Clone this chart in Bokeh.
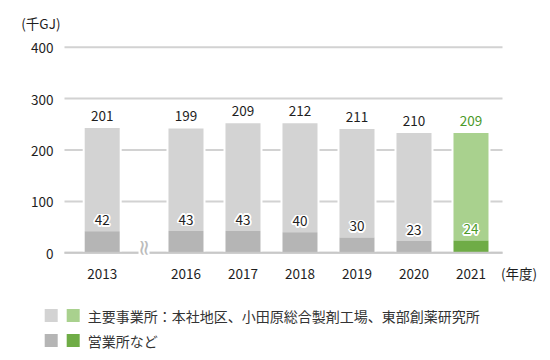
import math
from bokeh.plotting import figure
from bokeh.models import ColumnDataSource, Range1d
from bokeh.embed import file_html
from bokeh.resources import INLINE
from bokeh.core.properties import value

# ---------------- data ----------------
years = ["2013", "2016", "2017", "2018", "2019", "2020", "2021"]
main_sites = [201, 199, 209, 212, 211, 210, 209]      # 主要事業所
sales_offices = [42, 43, 43, 40, 30, 23, 24]          # 営業所など
highlight = [False, False, False, False, False, False, True]
y_ticks = [0, 100, 200, 300, 400]
y_unit = "(千GJ)"
x_unit = "(年度)"
legend_main = "主要事業所：本社地区、小田原総合製剤工場、東部創薬研究所"
legend_sales = "営業所など"

# ---------------- styles ----------------
FONT = "Noto Sans CJK JP"
GRAY_L = "#d3d3d3"
GRAY_D = "#b5b5b5"
GREEN_L = "#a9d18e"
GREEN_D = "#6fac46"
GREEN_T = "#4c9a2a"
TXT = "#1e1e1e"
GRID = "#d2d2d2"
FS = "13.5px"

# ---------------- layout (data-space frame covering the whole canvas) ----------------
W, H = 542, 352
X0_PX, PX_PER_X = 101.7, 57.0          # x=0 (first bar) location, px per slot
Y0_PX, PX_PER_Y = 252.3, 205.6 / 400   # y=0 location, px per unit
x_rng = Range1d(-X0_PX / PX_PER_X, (W - X0_PX) / PX_PER_X)
y_rng = Range1d(-(H - Y0_PX) / PX_PER_Y, Y0_PX / PX_PER_Y)

def dx(px):  # canvas px -> data x
    return (px - X0_PX) / PX_PER_X

def dy(px):  # canvas px -> data y
    return (Y0_PX - px) / PX_PER_Y

GX0, GX1 = dx(64), dx(502)            # plot area horizontal extent

# x layout: a break between 2013 and 2016
xpos = [0.0] + [round(1.47 + i, 2) for i in range(len(years) - 1)]
totals = [m + s for m, s in zip(main_sites, sales_offices)]

src = ColumnDataSource(dict(
    x=xpos,
    main=main_sites,
    sales=sales_offices,
    total=totals,
    top_color=[GREEN_L if h else GRAY_L for h in highlight],
    bot_color=[GREEN_D if h else GRAY_D for h in highlight],
    txt_color=[GREEN_T if h else TXT for h in highlight],
    main_lbl=[str(v) for v in main_sites],
    sales_lbl=[str(v) for v in sales_offices],
))

p = figure(width=W, height=H, x_range=x_rng, y_range=y_rng,
           output_backend="svg", toolbar_location=None, min_border=0,
           x_axis_location=None, y_axis_location=None)
p.outline_line_color = None
p.grid.visible = False

# gridlines
p.segment(x0=GX0, x1=GX1, y0=y_ticks, y1=y_ticks, line_color=GRID, line_width=2)
# y tick labels
p.text(x=GX0, y=y_ticks, text=[str(t) for t in y_ticks], x_offset=-11, y_offset=1,
       text_align="right", text_baseline="middle", text_color=TXT,
       text_font=value(FONT), text_font_size=FS)

# white halo behind bars (gap between gridlines and bars)
p.vbar(x="x", bottom=0, top="total", width=0.684, source=src,
       fill_color="white", line_color=None)
p.vbar(x="x", bottom="sales", top="total", width=0.614, source=src,
       fill_color="top_color", line_color=None)
p.vbar(x="x", bottom=0, top="sales", width=0.614, source=src,
       fill_color="bot_color", line_color=None)

# baseline + axis break
p.segment(x0=GX0, x1=GX1, y0=y_ticks[0], y1=y_ticks[0], line_color="#c8c8c8", line_width=2)
p.quad(left=0.637, right=0.83, bottom=-6, top=6, fill_color="white", line_color=None)
p.text(x=0.733, y=0, text=["≈"], angle=math.pi / 2, y_offset=-5,
       text_align="center", text_baseline="middle", text_color="#bbbbbb",
       text_font=value("DejaVu Sans"), text_font_size="22px")

# year labels
p.text(x=xpos, y=0, text=years, y_offset=21, text_align="center",
       text_baseline="middle", text_color=TXT,
       text_font=value(FONT), text_font_size=FS)
p.text(x=dx(500.5), y=0, text=[x_unit], y_offset=20.5, text_align="left",
       text_baseline="middle", text_color=TXT,
       text_font=value(FONT), text_font_size="13.5px")
p.text(x=dx(20.8), y=dy(22.5), text=[y_unit], text_align="left",
       text_baseline="middle", text_color=TXT,
       text_font=value(FONT), text_font_size="13.5px")

# labels above bars
p.text(x="x", y="total", text="main_lbl", source=src, text_color="txt_color",
       text_align="center", text_baseline="middle", y_offset=-12,
       text_font=value(FONT), text_font_size=FS)

# labels of lower segment with white halo
for k in range(12):
    a = 2 * math.pi * k / 12
    p.text(x="x", y="sales", text="sales_lbl", source=src, text_color="white",
           text_align="center", text_baseline="middle",
           x_offset=1.7 * math.cos(a), y_offset=-11 + 1.7 * math.sin(a),
           text_font=value(FONT), text_font_size=FS)
p.text(x="x", y="sales", text="sales_lbl", source=src, text_color="txt_color",
       text_align="center", text_baseline="middle", y_offset=-11,
       text_font=value(FONT), text_font_size=FS)

# ---------------- legend ----------------
row_y = [dy(315), dy(340)]
sw_x = [dx(50.7), dx(72.7)]
p.rect(x=[sw_x[0], sw_x[1], sw_x[0], sw_x[1]],
       y=[row_y[0], row_y[0], row_y[1], row_y[1]],
       width=13, height=13, width_units="screen", height_units="screen",
       fill_color=[GRAY_L, GREEN_L, GRAY_D, GREEN_D], line_color=None)
p.text(x=dx(87.3), y=row_y, text=[legend_main, legend_sales],
       text_align="left", text_baseline="middle", text_color="#333333",
       text_font=value(FONT), text_font_size="14px")

open("out.html", "w").write(file_html(p, INLINE))
